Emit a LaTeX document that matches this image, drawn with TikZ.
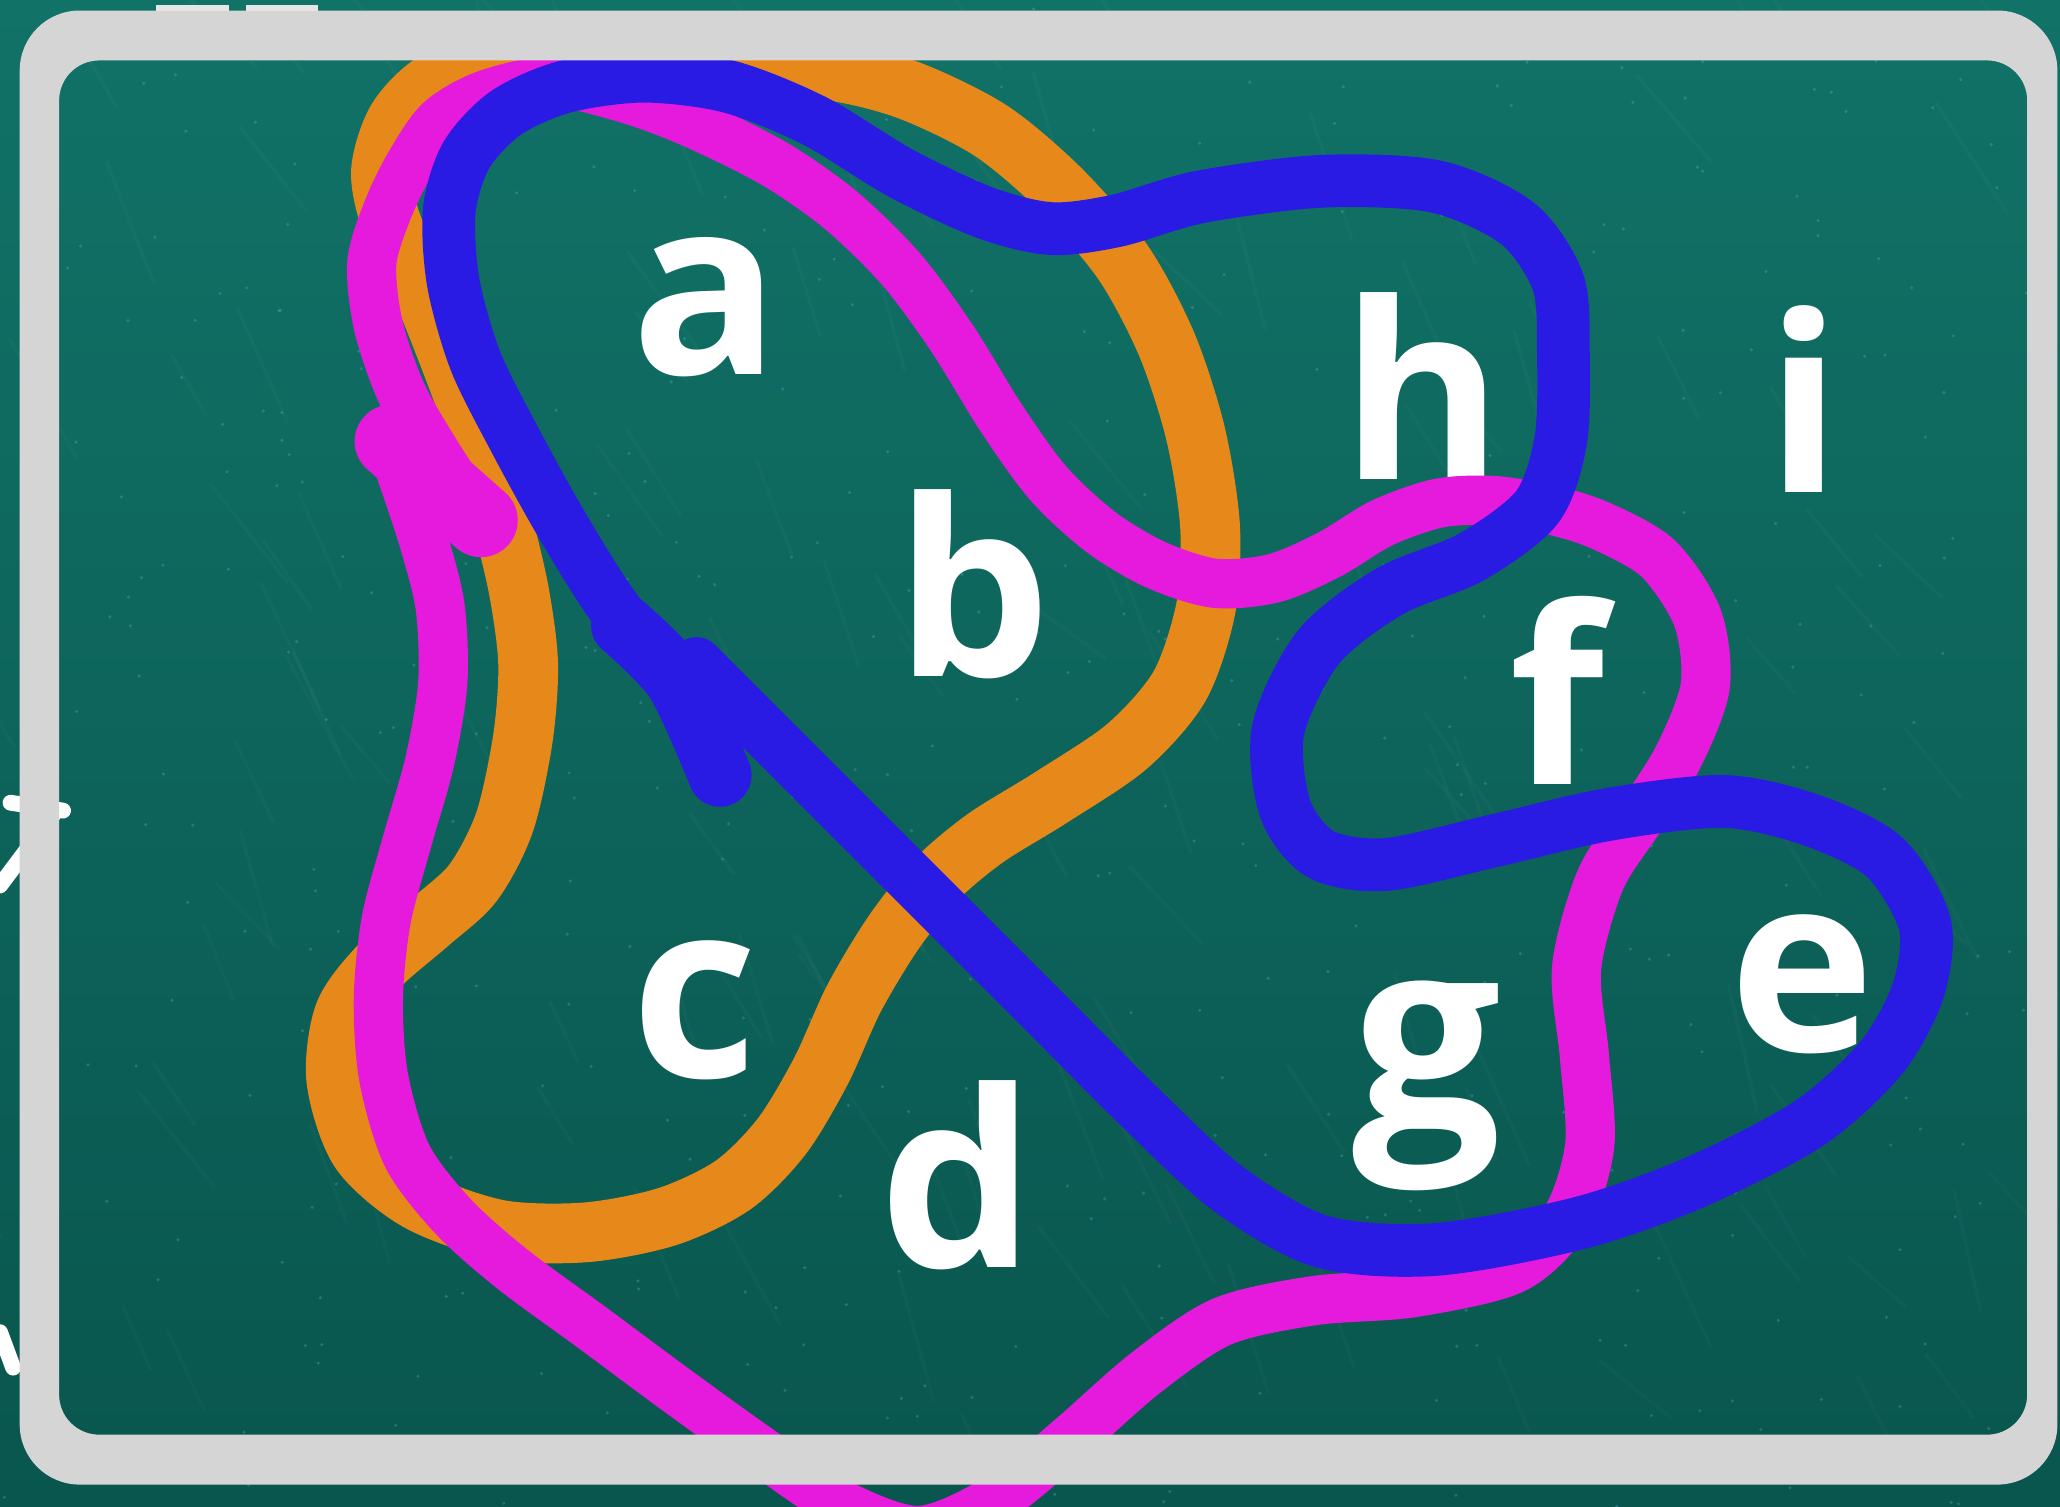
\documentclass[tikz,border=0pt]{standalone}
\usepackage{fontspec}
\setmainfont{Open Sans}
\definecolor{boardtop}{RGB}{17,114,103}
\definecolor{boardbot}{RGB}{9,86,78}
\definecolor{framegrey}{RGB}{213,213,213}
\definecolor{loopor}{RGB}{230,136,26}
\definecolor{loopmag}{RGB}{229,26,220}
\definecolor{loopblue}{RGB}{41,26,228}

\begin{document}
\begin{tikzpicture}[x=0.013138cm, y=-0.013138cm,
letter/.style={text=white, font=\fontsize{70}{70}\selectfont\bfseries, inner sep=0pt, anchor=base},
loopline/.style={line width=#1, line cap=round, line join=round},
chalk/.style={white, line width=4.5pt, line cap=round, line join=round}
]
\useasboundingbox (0,0) rectangle (1568,1147);
\shade[top color=boardtop, bottom color=boardbot] (0,0) rectangle (1568,1147);
% chalk dust
\pgfmathsetseed{7}
\foreach \k in {1,...,140}
  \draw [white, opacity=0.025, line width=1pt] ({rnd*1568},{rnd*1147}) -- ++({-20-rnd*40},{-40-rnd*60});
\foreach \k in {1,...,500}
  \fill [cyan!60!white, opacity=0.25] ({rnd*1568},{rnd*1147}) circle (1.3);

% letters
\node [letter] (a) at (537,285) {a};
\node [letter] (b) at (741,515) {b};
\node [letter] (c) at (529,820) {c};
\node [letter] (d) at (729,965) {d};
\node [letter] (e) at (1372,800) {e};
\node [letter] (f) at (1185,597) {f};
\node [letter, font=\fontsize{75}{75}\selectfont\bfseries] (g) at (1086,858) {g};
\node [letter] (h) at (1083,365) {h};
\node [letter] (i) at (1373,375) {i};

% orange loop
\draw [loopline=17pt, loopor] plot [smooth cycle] coordinates {
  (303,90) (335,60) (390,48) (470,44) (560,46) (640,55) (695,70) (755,100)
  (808,145) (855,200) (888,262) (910,330) (921,400) (918,462) (898,522)
  (858,568) (800,607) (750,638) (712,670) (680,710) (650,760) (625,815)
  (595,865) (558,902) (508,926) (446,938) (380,936) (318,914) (274,876)
  (256,822) (262,772) (288,736) (326,703) (360,672) (384,626) (398,562)
  (402,505) (395,450) (382,395) (365,335) (345,280) (322,222) (298,170) (290,130)};

% magenta loop
\draw [loopline=14pt, loopmag] plot [smooth] coordinates {
  (365,395) (335,350) (306,300) (288,248) (283,200) (295,160) (312,125)
  (335,92) (370,72) (420,62) (480,76) (530,95) (590,125) (640,160) (686,205)
  (725,258) (762,318) (798,368) (838,405) (880,430) (925,444) (970,440)
  (1012,422) (1052,398) (1095,383) (1137,381) (1180,388) (1218,400)
  (1262,425) (1292,470) (1298,522) (1278,575) (1248,623) (1218,670)
  (1200,737) (1206,804) (1210,872) (1192,928) (1152,966) (1075,984)
  (1000,990) (930,1006) (872,1045) (815,1095) (760,1140) (700,1165)
  (640,1145) (580,1105) (512,1056) (450,1010) (390,966) (345,926)
  (310,880) (292,820) (288,760) (294,700) (310,640) (327,580) (337,520)
  (335,462) (322,410) (302,350)};
\draw [loopline=21pt, loopmag] (298,336) -- (366,396);

% blue loop
\draw [loopline=15pt, loopblue] plot [smooth] coordinates {
  (495,500) (460,452) (425,395) (392,335) (362,275) (345,215) (342,160)
  (355,118) (385,86) (430,66) (490,58) (555,66) (620,92) (686,132)
  (750,162) (800,174) (850,168) (913,150) (1006,138) (1093,142)
  (1155,170) (1186,215) (1190,270) (1188,335) (1170,386) (1120,424)
  (1058,450) (1004,492) (973,555) (978,615) (1005,650) (1055,658)
  (1137,640) (1224,620) (1312,610) (1378,624) (1434,652) (1465,703)
  (1460,754) (1432,805) (1377,855) (1290,900) (1202,931) (1093,951)
  (1006,945) (935,905) (870,845) (800,775) (710,685) (620,595) (530,505)};
\draw [loopline=18pt, loopblue] plot [smooth] coordinates {(474,476) (515,518) (548,590)};

% chalk marks outside the board
\draw [chalk] (8,611) -- (48,617);
\draw [chalk] (42,618) -- (0,674);
\draw [chalk] (0,1014) -- (10,1041);

% board frame
\fill [framegrey, even odd rule] [rounded corners=0.6cm] (15,8) rectangle (1566,1130)
  [rounded corners=0.4cm] (45,46) rectangle (1543,1092);
\fill [framegrey!60!white] (119,4) rectangle (174,8);
\fill [framegrey!60!white] (187,4) rectangle (242,8);
\end{tikzpicture}
\end{document}
